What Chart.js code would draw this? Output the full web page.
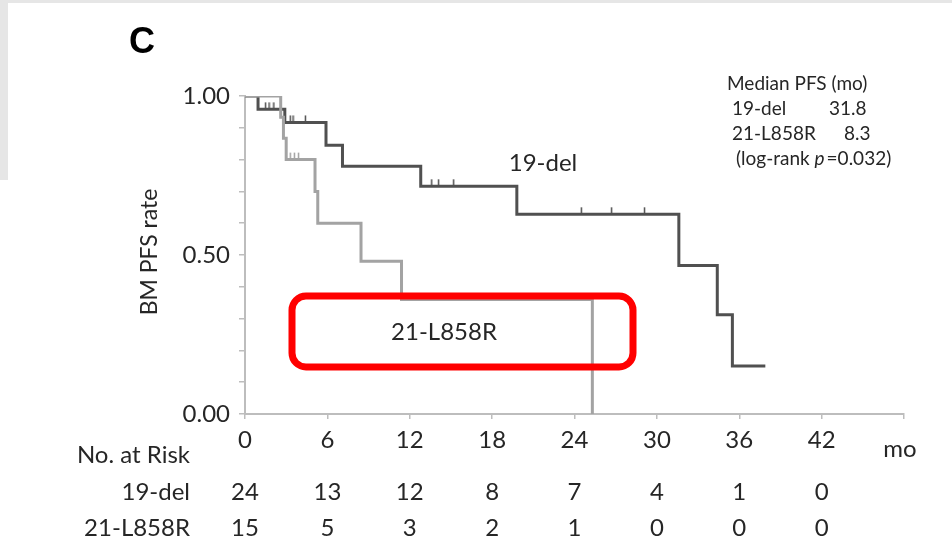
<!DOCTYPE html>
<html>
<head>
<meta charset="utf-8">
<script src="https://cdn.jsdelivr.net/npm/chart.js@4.4.1/dist/chart.umd.min.js"></script>
<style>
  html, body { margin: 0; padding: 0; background: #fff; }
  #wrap { width: 952px; height: 543px; position: relative; }
</style>
</head>
<body>
<div id="wrap"><canvas id="km" width="952" height="543"></canvas></div>
<script>
// x axis ticks (months) and numbers at risk
const monthTicks = [0, 6, 12, 18, 24, 30, 36, 42];
const riskDel    = [24, 13, 12, 8, 7, 4, 1, 0];
const riskL858   = [15, 5, 3, 2, 1, 0, 0, 0];

// 19-del step curve
const delTimes = [0, 0.95, 2.9, 5.9, 7.1, 12.8, 19.8, 31.6, 34.4, 35.5, 37.9];
const delSurv  = [1.0, 0.958, 0.917, 0.845, 0.779, 0.716, 0.628, 0.467, 0.312, 0.151, 0.151];
const delCensorT = [1.5, 1.75, 2.1, 3.3, 3.5, 4.4, 13.6, 14.1, 15.2, 24.5, 26.7, 29.1];
const delCensorS = [0.958, 0.958, 0.958, 0.917, 0.917, 0.917, 0.716, 0.716, 0.716, 0.628, 0.628, 0.628];

// 21-L858R step curve
const l858Times = [0, 2.6, 2.8, 3.0, 5.1, 5.3, 8.45, 11.4, 25.3];
const l858Surv  = [1.0, 0.933, 0.867, 0.80, 0.70, 0.60, 0.48, 0.36, 0];
const l858CensorT = [3.3, 3.6, 3.9];
const l858CensorS = [0.80, 0.80, 0.80];

const DARK = '#505050';
const LIGHT = '#a3a3a3';
const AXIS = '#bdbdbd';
const TXT = '#262626';
const FONT = 'Lato, "Open Sans", sans-serif';

const pts = (xs, ys) => xs.map((x, i) => ({ x: x, y: ys[i] }));

// small upward tick used for censored observations
function censorMark(color) {
    const c = document.createElement('canvas');
    c.width = 3; c.height = 16;
    const g = c.getContext('2d');
    g.strokeStyle = color;
    g.lineWidth = 1.5;
    g.beginPath(); g.moveTo(1.5, 1); g.lineTo(1.5, 8); g.stroke();
    return c;
}

const decorations = {
    id: 'decorations',
    beforeDraw(chart) {
        const ctx = chart.ctx;
        ctx.save();
        ctx.fillStyle = '#e6e6e6';
        ctx.fillRect(0, 0, 952, 3);
        ctx.fillRect(0, 0, 8, 180);
        ctx.restore();
    },
    afterDraw(chart) {
        const ctx = chart.ctx;
        const xs = chart.scales.x;
        ctx.save();

        // panel letter
        ctx.fillStyle = '#000';
        ctx.font = 'bold 36px "Liberation Sans", Arial, sans-serif';
        ctx.textAlign = 'center';
        ctx.textBaseline = 'middle';
        ctx.fillText('C', 142, 43);

        // y axis title
        ctx.fillStyle = TXT;
        ctx.font = '23px ' + FONT;
        ctx.save();
        ctx.translate(150, 252);
        ctx.rotate(-Math.PI / 2);
        ctx.fillText('BM PFS rate', 0, 0);
        ctx.restore();

        // unit on x axis
        ctx.font = '24px ' + FONT;
        ctx.fillText('mo', 900, 449);

        // curve labels
        ctx.fillText('19-del', 543, 163);
        ctx.fillText('21-L858R', 444, 332);

        // median PFS box
        ctx.font = '19px ' + FONT;
        ctx.textAlign = 'left';
        ctx.fillText('Median PFS (mo)', 727, 84);
        ctx.fillText('19-del', 732, 109);
        ctx.fillText('31.8', 829, 109);
        ctx.fillText('21-L858R', 732, 134);
        ctx.fillText('8.3', 844, 134);
        const s1 = '(log-rank ';
        ctx.fillText(s1, 736, 159);
        let w = ctx.measureText(s1).width;
        ctx.font = 'italic 19px ' + FONT;
        ctx.fillText('p', 736 + w, 159);
        w += ctx.measureText('p').width + 2;
        ctx.font = '19px ' + FONT;
        ctx.fillText('=0.032)', 736 + w, 159);

        // numbers at risk
        ctx.font = '24px ' + FONT;
        ctx.textAlign = 'right';
        ctx.fillText('No. at Risk', 190, 455);
        ctx.fillText('19-del', 190, 492);
        ctx.fillText('21-L858R', 190, 528);
        ctx.textAlign = 'center';
        monthTicks.forEach((m, i) => {
            const px = xs.getPixelForValue(m);
            ctx.fillText(String(riskDel[i]), px, 492);
            ctx.fillText(String(riskL858[i]), px, 528);
        });

        // red highlight box
        ctx.strokeStyle = '#ff0000';
        ctx.lineWidth = 7;
        ctx.beginPath();
        ctx.roundRect(292, 296, 341, 71, 14);
        ctx.stroke();

        ctx.restore();
    }
};

new Chart(document.getElementById('km'), {
    type: 'scatter',
    data: {
        datasets: [
            {
                label: '21-L858R',
                data: pts(l858Times, l858Surv),
                showLine: true,
                stepped: true,
                borderColor: LIGHT,
                borderWidth: 3,
                pointRadius: 0
            },
            {
                label: '19-del',
                data: pts(delTimes, delSurv),
                showLine: true,
                stepped: true,
                borderColor: DARK,
                borderWidth: 3,
                pointRadius: 0
            },
            {
                label: '19-del censored',
                data: pts(delCensorT, delCensorS),
                showLine: false,
                pointStyle: censorMark(DARK),
                pointRadius: 4
            },
            {
                label: '21-L858R censored',
                data: pts(l858CensorT, l858CensorS),
                showLine: false,
                pointStyle: censorMark(LIGHT),
                pointRadius: 4
            }
        ]
    },
    options: {
        responsive: false,
        animation: false,
        layout: { padding: { left: 0, top: 96, right: 48, bottom: 0 } },
        plugins: {
            legend: { display: false },
            tooltip: { enabled: false }
        },
        scales: {
            x: {
                type: 'linear',
                min: 0,
                max: 48,
                afterFit: s => { s.height = 129; },
                ticks: {
                    stepSize: 6,
                    color: TXT,
                    font: { family: FONT, size: 24 },
                    padding: 7,
                    maxRotation: 0,
                    callback: v => v >= 48 ? '' : v
                },
                grid: { drawOnChartArea: false, drawTicks: true, tickLength: 5, color: AXIS, lineWidth: 1.5 },
                border: { color: AXIS, width: 2 }
            },
            y: {
                min: 0,
                max: 1,
                afterFit: s => { s.width = 245; },
                ticks: {
                    stepSize: 0.1,
                    color: TXT,
                    font: { family: FONT, size: 24 },
                    padding: 9,
                    callback: v => Math.abs(v * 2 - Math.round(v * 2)) < 1e-6 ? v.toFixed(2) : ''
                },
                grid: { drawOnChartArea: false, drawTicks: true, tickLength: 6, color: AXIS, lineWidth: 1.5 },
                border: { color: AXIS, width: 2 }
            }
        }
    },
    plugins: [decorations]
});
</script>
</body>
</html>
